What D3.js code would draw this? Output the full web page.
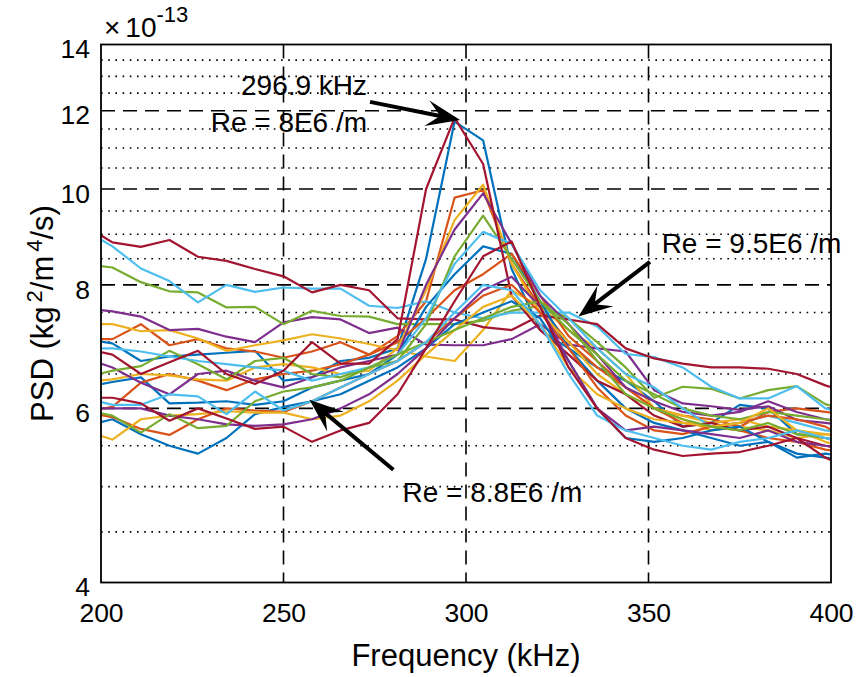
<!DOCTYPE html>
<html>
<head>
<meta charset="utf-8">
<script src="https://cdn.jsdelivr.net/npm/d3@7"></script>
<style>
  body { margin: 0; background: #fff; }
  svg { display: block; font-family: "Liberation Sans", Arial, sans-serif; }
</style>
</head>
<body>
<svg id="chart" width="859" height="677"></svg>
<script>
// frequency bins (kHz), the ends fall outside the axes and get clipped
var freq = [195.3125, 203.125, 210.9375, 218.75, 226.5625, 234.375, 242.1875, 250,
            257.8125, 265.625, 273.4375, 281.25, 289.0625, 296.875, 304.6875, 312.5,
            320.3125, 328.125, 335.9375, 343.75, 351.5625, 359.375, 367.1875, 375,
            382.8125, 390.625, 398.4375, 406.25];

// PSD values, x 1e-13 kg^2/m^4/s
var blueA     = [7.05,6.98,6.7,6.77,6.8,6.83,6.86,6.4,6.45,6.7,6.75,6.9,8.5,11.7,11.2,8.3,7.2,6.9,6.6,6.4,6.1,5.75,5.8,6.05,6.0,5.65,5.6,5.55];
var orangeA   = [7.05,7.05,7.3,6.95,7.05,6.9,6.85,6.75,6.85,7.0,6.8,7.1,7.7,9.8,9.97,8.4,7.6,7.0,6.6,6.3,6.0,5.9,5.85,5.75,5.95,6.0,5.95,5.9];
var yellowA   = [7.3,7.3,7.18,7.2,7.06,6.86,6.95,7.03,7.13,7.06,6.97,6.87,6.77,6.7,7.2,7.9,7.6,7.2,6.9,6.5,6.0,5.85,5.7,5.75,5.7,5.6,5.65,5.6];
var purpleA   = [7.58,7.52,7.43,7.2,7.22,7.09,7.0,7.33,7.42,7.38,7.15,7.24,6.96,6.95,6.95,7.05,7.3,6.96,6.9,6.85,6.26,6.07,6.03,5.98,6.03,5.84,5.8,5.75];
var greenA    = [8.4,8.33,8.05,7.88,7.86,7.59,7.6,7.3,7.53,7.44,7.43,7.3,7.3,7.3,7.36,7.53,7.62,7.4,7.0,6.6,6.15,6.31,6.28,6.14,6.26,6.32,6.06,5.95];
var lblueA    = [9.1,8.75,8.31,8.07,7.68,8.0,7.87,7.95,7.93,7.93,7.62,7.58,7.7,7.5,7.4,7.5,7.5,7.5,7.26,6.81,6.76,6.6,6.31,6.14,6.14,6.32,6.0,5.9];
var redA      = [9.2,8.83,8.74,8.88,8.54,8.46,8.3,8.16,7.86,8.0,7.9,7.4,7.38,7.38,7.25,7.2,7.45,7.38,7.3,6.9,6.74,6.66,6.6,6.6,6.58,6.5,6.33,6.2];
var blueB     = [6.3,6.38,6.45,6.07,6.08,6.1,6.05,6.1,6.3,6.4,6.5,6.8,7.6,8.2,8.75,8.6,7.7,6.9,6.4,6.0,5.8,5.7,5.6,5.5,5.55,5.4,5.35,5.3];
var orangeB   = [5.95,6.02,6.37,6.5,6.4,6.26,6.42,6.5,6.55,6.65,6.8,7.0,7.4,7.9,8.2,8.6,7.8,7.1,6.7,6.3,6.0,5.8,5.75,5.7,5.6,5.55,5.45,5.4];
var yellowB   = [6.38,6.42,6.5,6.48,6.42,6.4,6.6,6.65,6.6,6.5,6.55,6.9,7.9,9.3,10.1,8.4,7.5,7.0,6.5,6.2,6.0,5.9,5.8,5.85,5.75,5.7,5.65,5.6];
var purpleB   = [6.75,6.6,6.37,6.2,6.5,6.55,6.4,6.3,6.45,6.6,6.7,6.8,8.0,9.1,9.9,8.8,7.8,7.3,6.8,6.3,6.1,5.95,5.9,5.95,6.1,5.95,5.85,5.8];
var greenB    = [6.45,6.55,6.62,6.86,6.65,6.42,6.7,6.75,6.5,6.45,6.6,6.7,7.3,8.55,9.4,8.5,7.7,7.2,6.8,6.4,6.2,6.0,5.9,5.85,5.95,5.9,5.85,5.75];
var lblueB    = [6.9,6.9,6.85,6.77,6.7,6.65,6.6,6.55,6.4,6.5,6.6,6.8,7.4,8.4,9.05,8.8,7.9,7.4,6.9,6.5,6.3,6.0,5.75,5.8,5.9,5.8,5.7,5.65];
var redB      = [6.9,6.8,6.5,6.68,6.86,6.5,6.35,6.55,7.0,6.66,6.66,7.05,10.0,11.8,10.6,7.8,7.2,6.8,6.4,6.2,5.9,5.75,5.8,5.7,5.75,5.6,5.5,5.45];
var blueC     = [5.75,5.85,5.65,5.5,5.4,5.6,5.92,6.02,6.1,6.2,6.4,6.6,6.9,7.3,7.5,7.7,7.4,6.7,6.0,5.6,5.55,5.6,5.7,5.75,5.55,5.35,5.4,5.35];
var orangeC   = [5.95,5.88,5.72,5.64,5.85,6.0,5.97,5.95,6.1,6.3,6.5,6.7,7.0,7.4,7.8,8.0,7.5,6.9,6.3,5.9,5.7,5.65,5.75,5.8,5.9,5.85,5.75,5.55];
var yellowC   = [5.7,5.58,5.85,5.9,5.92,5.96,5.94,5.94,5.85,5.9,6.1,6.4,6.8,7.2,7.6,7.8,7.3,6.6,6.2,6.0,5.85,5.8,5.75,5.8,6.0,5.7,5.55,5.45];
var purpleC   = [6.0,6.0,6.0,5.9,5.85,5.78,5.76,5.78,5.85,6.0,6.2,6.5,6.9,7.4,7.9,8.15,7.6,6.7,6.0,5.7,5.75,5.7,5.65,5.6,5.7,5.55,5.5,5.45];
var greenC    = [5.98,5.9,5.67,5.92,5.73,5.76,6.1,6.24,6.3,6.4,6.6,6.8,7.0,7.2,7.4,7.6,7.7,7.3,6.7,6.2,6.0,5.85,5.75,5.7,5.8,5.65,5.6,5.5];
var lblueC    = [6.15,6.05,6.05,6.2,6.17,5.92,6.24,5.97,6.1,6.3,6.5,6.7,7.0,7.5,8.0,7.9,7.3,6.5,5.9,5.7,5.6,5.5,5.45,5.55,5.6,5.7,5.6,5.5];
var redC      = [6.15,6.15,6.07,5.83,6.0,5.86,5.72,5.75,5.55,5.7,5.8,6.2,6.9,7.7,8.55,8.85,7.6,6.6,6.0,5.6,5.45,5.37,5.4,5.42,5.5,5.6,5.35,5.2];

var runs = [blueA, orangeA, yellowA, purpleA, greenA, lblueA, redA,
            blueB, orangeB, yellowB, purpleB, greenB, lblueB, redB,
            blueC, orangeC, yellowC, purpleC, greenC, lblueC, redC];

var lineColors = ["#0072BD", "#D95319", "#EDB120", "#7E2F8E", "#77AC30", "#4DBEEE", "#A2142F"];

var xTicks = [200, 250, 300, 350, 400];
var yTicks = [4, 6, 8, 10, 12, 14];
var yMajorGrid = [6, 8, 10, 12];
var yMinorGrid = [4.5, 5, 5.5, 6.5, 7, 7.5, 8.5, 9, 9.5, 10.5, 11, 11.5, 12.5, 13, 13.5];
var xMajorGrid = [250, 300, 350];

// annotations: text, arrow tail and tip in data units
var notes = [
  {lines: ["296.9 kHz", "Re = 8E6 /m"], at: [272.9, 12.44], anchor: "end", tail: [273.7, 12.25], tip: [298.4, 11.74]},
  {lines: ["Re = 9.5E6 /m"], at: [353.6, 8.61], anchor: "start", tail: [350.4, 8.44], tip: [330.8, 7.43]},
  {lines: ["Re = 8.8E6 /m"], at: [282.6, 4.82], anchor: "start", tail: [280.1, 5.2], tip: [257.1, 6.12]}
];

var margin = {left: 101, top: 44.5, right: 28, bottom: 94.5};
var W = 859, H = 677;
var iw = W - margin.left - margin.right, ih = H - margin.top - margin.bottom;

var svg = d3.select("#chart");
var x = d3.scaleLinear().domain([200, 400]).range([0, iw]);
var y = d3.scaleLog().domain([4, 14]).range([ih, 0]);

svg.append("defs").append("clipPath").attr("id", "plotclip")
  .append("rect").attr("width", iw).attr("height", ih);

var g = svg.append("g").attr("transform", "translate(" + margin.left + "," + margin.top + ")");

// grid
var grid = g.append("g");
grid.selectAll("line.minor").data(yMinorGrid).enter().append("line")
  .attr("x1", 0).attr("x2", iw)
  .attr("y1", function(d){ return y(d); }).attr("y2", function(d){ return y(d); })
  .attr("stroke", "#000").attr("stroke-width", 1.6)
  .attr("stroke-dasharray", "1.6,5.6");
grid.selectAll("line.ymaj").data(yMajorGrid).enter().append("line")
  .attr("x1", 0).attr("x2", iw)
  .attr("y1", function(d){ return y(d); }).attr("y2", function(d){ return y(d); })
  .attr("stroke", "#000").attr("stroke-width", 1.6)
  .attr("stroke-dasharray", "14,8");
grid.selectAll("line.xmaj").data(xMajorGrid).enter().append("line")
  .attr("y1", 0).attr("y2", ih)
  .attr("x1", function(d){ return x(d); }).attr("x2", function(d){ return x(d); })
  .attr("stroke", "#000").attr("stroke-width", 1.6)
  .attr("stroke-dasharray", "14,8");

// data
var line = d3.line()
  .x(function(d, i){ return x(freq[i]); })
  .y(function(d){ return y(d); });

g.append("g").attr("clip-path", "url(#plotclip)")
  .selectAll("path").data(runs).enter().append("path")
  .attr("d", line)
  .attr("fill", "none")
  .attr("stroke", function(d, i){ return lineColors[i % lineColors.length]; })
  .attr("stroke-width", 2.2)
  .attr("stroke-linejoin", "round");

// axes box
g.append("rect").attr("width", iw).attr("height", ih)
  .attr("fill", "none").attr("stroke", "#000").attr("stroke-width", 1.8);

var xAxis = d3.axisBottom(x).tickValues(xTicks).tickSize(0).tickPadding(21)
  .tickFormat(d3.format("d"));
g.append("g").attr("transform", "translate(0," + ih + ")").call(xAxis)
  .call(function(s){ s.select(".domain").remove(); })
  .selectAll("text").attr("font-size", 26.5).attr("fill", "#000")
  .attr("font-family", "Liberation Sans, Arial, sans-serif");

var yAxis = d3.axisLeft(y).tickValues(yTicks).tickSize(0).tickPadding(11)
  .tickFormat(d3.format("d"));
g.append("g").call(yAxis)
  .call(function(s){ s.select(".domain").remove(); })
  .selectAll("text").attr("font-size", 26.5).attr("fill", "#000")
  .attr("dy", "0.5em")
  .attr("font-family", "Liberation Sans, Arial, sans-serif");

// exponent label
var expo = svg.append("text").attr("x", margin.left + 3).attr("y", 37)
  .attr("font-size", 28).attr("fill", "#000");
expo.append("tspan").text("\u00d7");
expo.append("tspan").attr("dx", 5).text("10");
expo.append("tspan").attr("dy", -15).attr("font-size", 22).text("-13");

// axis titles
svg.append("text").attr("x", margin.left + iw / 2).attr("y", 666)
  .attr("text-anchor", "middle").attr("font-size", 31).attr("fill", "#000")
  .text("Frequency (kHz)");

var yl = svg.append("text")
  .attr("transform", "translate(53," + (margin.top + ih / 2) + ") rotate(-90)")
  .attr("text-anchor", "middle").attr("font-size", 31).attr("fill", "#000");
yl.append("tspan").text("PSD (kg");
yl.append("tspan").attr("dx", 4).attr("dy", -11).attr("font-size", 22).text("2");
yl.append("tspan").attr("dy", 11).text("/m");
yl.append("tspan").attr("dx", 4).attr("dy", -11).attr("font-size", 22).text("4");
yl.append("tspan").attr("dy", 11).text("/s)");

// annotations
function arrowHead(tx, ty, px, py) {
  var dx = px - tx, dy = py - ty, len = Math.sqrt(dx * dx + dy * dy);
  var ux = dx / len, uy = dy / len, nx = -uy, ny = ux;
  var L = 34, Wd = 13, N = 0.6;
  var b1 = [px - L * ux + Wd * nx, py - L * uy + Wd * ny];
  var b2 = [px - L * ux - Wd * nx, py - L * uy - Wd * ny];
  var nb = [px - N * L * ux, py - N * L * uy];
  return "M" + px + "," + py + "L" + b1 + "L" + nb + "L" + b2 + "Z";
}

var ann = g.append("g");
notes.forEach(function(n){
  var t = ann.append("text")
    .attr("x", x(n.at[0])).attr("y", y(n.at[1]))
    .attr("text-anchor", n.anchor).attr("font-size", 28).attr("fill", "#000");
  n.lines.forEach(function(s, i){
    t.append("tspan").attr("x", x(n.at[0])).attr("dy", i === 0 ? 0 : 36.7).text(s);
  });
  var tx = x(n.tail[0]), ty = y(n.tail[1]), px = x(n.tip[0]), py = y(n.tip[1]);
  var dx = px - tx, dy = py - ty, len = Math.sqrt(dx * dx + dy * dy);
  ann.append("line")
    .attr("x1", tx).attr("y1", ty)
    .attr("x2", px - dx / len * 18).attr("y2", py - dy / len * 18)
    .attr("stroke", "#000").attr("stroke-width", 4);
  ann.append("path").attr("d", arrowHead(tx, ty, px, py)).attr("fill", "#000");
});
</script>
</body>
</html>
